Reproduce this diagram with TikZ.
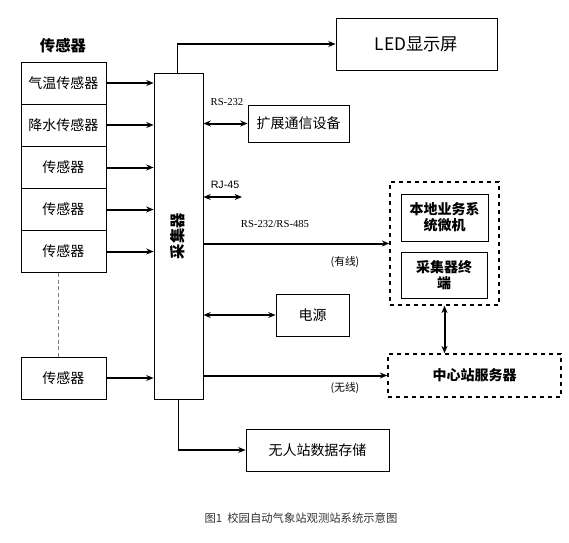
\documentclass[tikz,border=0pt]{standalone}
\usepackage{fontspec}
\usetikzlibrary{arrows.meta}
\setmainfont{Noto Sans CJK SC}
\newfontfamily\serifnum{Liberation Serif}
\newfontfamily\sansnum{Liberation Sans}
\tikzset{
  box/.style={draw, rectangle, line width=0.7pt, align=center, font=\fontsize{10.5}{12}\selectfont},
  grpbox/.style={draw, rectangle, dashed, line width=1.1pt},
  link/.style={->, line width=1.5pt},
  dlink/.style={<->, line width=1.5pt},
  lbl/.style={font=\fontsize{8}{9}\selectfont\serifnum}
}
\begin{document}
\begin{tikzpicture}[>={Stealth[length=5.5pt,width=4.5pt]}, x=0.75pt, y=-0.75pt]
\useasboundingbox (0,0) rectangle (569,543);
% sensors
\node[font=\bfseries\fontsize{11.5}{13}\selectfont] (title) at (63,46) {传感器};
\node[box, minimum width=63.75pt, minimum height=31.5pt] (s1) at (63.5,83) {气温传感器};
\node[box, minimum width=63.75pt, minimum height=31.5pt] (s2) at (63.5,125) {降水传感器};
\node[box, minimum width=63.75pt, minimum height=31.5pt] (s3) at (63.5,167.5) {传感器};
\node[box, minimum width=63.75pt, minimum height=31.5pt] (s4) at (63.5,209.5) {传感器};
\node[box, minimum width=63.75pt, minimum height=31.5pt] (s5) at (63.5,251.5) {传感器};
\node[box, minimum width=63.75pt, minimum height=31.5pt] (s6) at (63.5,378) {传感器};
\draw[dash pattern=on 3pt off 2pt, gray, line width=0.9pt] ([xshift=-4pt]s5.south) -- ([xshift=-4pt]s6.north);

% collector
\node[box, minimum width=36.75pt, minimum height=244.5pt] (coll) at (178.5,236) {};
\node[rotate=90, font=\bfseries\fontsize{11.5}{13}\selectfont] (colltxt) at (178,236) {采集器};

% devices
\node[box, minimum width=120.75pt, minimum height=39pt, font=\fontsize{13}{15}\selectfont] (led) at (416.5,44) {LED显示屏};
\node[box, minimum width=75.75pt, minimum height=27.75pt] (ext) at (298.5,123.5) {扩展通信设备};
\node[box, minimum width=54.75pt, minimum height=31.5pt] (pwr) at (312.5,315) {电源};
\node[box, minimum width=107.25pt, minimum height=31.5pt] (sto) at (317.5,450) {无人站数据存储};
\node[grpbox, minimum width=81.75pt, minimum height=92.25pt] (grp) at (444.5,243.5) {};
\node[box, minimum width=65.25pt, minimum height=35.25pt, font=\bfseries\fontsize{10.5}{12}\selectfont] (local) at (444.5,217.5) {本地业务系\\统微机};
\node[box, minimum width=64.5pt, minimum height=34.5pt, font=\bfseries\fontsize{10.5}{12}\selectfont] (term) at (444,275) {采集器终\\端};
\node[grpbox, minimum width=129.75pt, minimum height=32.25pt, font=\bfseries\fontsize{10.5}{12}\selectfont] (srv) at (474.5,375.5) {中心站服务器};
\coordinate (rj) at (242,197);

% labels
\node[lbl] (l232) at (227,102) {RS-232};
\node[font=\fontsize{8}{9}\selectfont\sansnum] (l45) at (225,185) {RJ-45};
\node[lbl] (l485) at (275,224) {RS-232/RS-485};
\node[font=\fontsize{8}{9}\selectfont] (lwire) at (345,262) {(有线)};
\node[font=\fontsize{8}{9}\selectfont] (lair) at (345,388) {(无线)};
\node[font=\fontsize{8.5}{10}\selectfont, text=black!80] (cap) at (301,518) {图1\ \ 校园自动气象站观测站系统示意图};

% connectors
\foreach \s in {s1,s2,s3,s4,s5,s6}
  \draw[link] (\s.east) -- (\s.east -| coll.west);
\draw[->, line width=0.8pt] ([xshift=-1pt]coll.north) |- (led.west);
\draw[dlink] (coll.east |- ext.west) -- (ext.west);
\draw[dlink] (coll.east |- rj) -- (rj);
\draw[link] (coll.east |- grp.west) -- (grp.west);
\draw[dlink] (coll.east |- pwr.west) -- (pwr.west);
\draw[link] (coll.east |- srv.west) -- (srv.west);
\draw[->, line width=1.1pt] (coll.south) |- (sto.west);
\draw[dlink] (grp.south) -- (grp.south |- srv.north);
\end{tikzpicture}
\end{document}
